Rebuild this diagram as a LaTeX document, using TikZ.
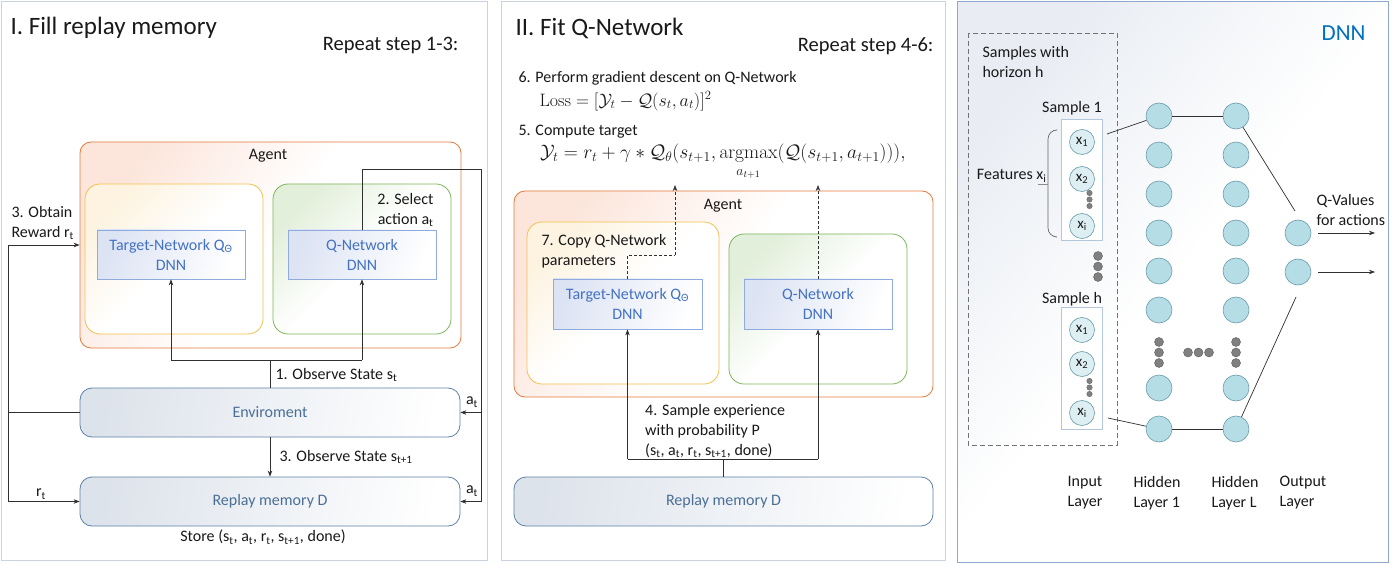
\RequirePackage{fix-cm}
\documentclass[tikz,border=0pt]{standalone}
\usepackage{amsmath}
\usepackage[no-math]{fontspec}
\setmainfont{Carlito}
\usetikzlibrary{arrows.meta,calc}
\definecolor{panelb}{HTML}{CBD3E0}
\definecolor{rpanelb}{HTML}{8EA7CE}
\definecolor{rpanelf}{HTML}{E9EDF3}
\definecolor{agentb}{HTML}{E57A3C}
\definecolor{agentf}{HTML}{FCE6DC}
\definecolor{yelb}{HTML}{F2C14E}
\definecolor{yelf}{HTML}{FDF3E0}
\definecolor{greb}{HTML}{7FB55A}
\definecolor{gref}{HTML}{E2EFDA}
\definecolor{innb}{HTML}{8FAADC}
\definecolor{innf}{HTML}{DCE3F3}
\definecolor{innt}{HTML}{4472C4}
\definecolor{envb}{HTML}{5E81A8}
\definecolor{envf}{HTML}{DDE3EB}
\definecolor{envt}{HTML}{4A6F96}
\definecolor{neuf}{HTML}{B5DDE6}
\definecolor{neub}{HTML}{6A9BAA}
\definecolor{inf}{HTML}{DDEFF3}
\definecolor{dotc}{HTML}{808080}
\definecolor{dnnt}{HTML}{0070C0}
\definecolor{sboxb}{HTML}{B4C6DC}
\definecolor{linec}{HTML}{303030}
\begin{document}
\begin{tikzpicture}[x=1pt,y=-1pt,
  font=\fontsize{16}{20}\selectfont,
  every node/.style={text=black!90},
  conn/.style={draw=linec, line width=0.7pt},
  arr/.style={conn, -{Stealth[length=6pt,width=4.5pt]}},
  dconn/.style={conn, dashed, dash pattern=on 3pt off 2pt},
  agentbox/.style={draw=agentb, line width=0.8pt, rounded corners=11pt, top color=agentf, bottom color=white, middle color=white, shading angle=55},
  yelbox/.style={draw=yelb, line width=0.8pt, rounded corners=15pt, top color=yelf, bottom color=white, middle color=white, shading angle=45},
  grebox/.style={draw=greb, line width=0.8pt, rounded corners=15pt, top color=gref, bottom color=white, middle color=white, shading angle=45},
  innbox/.style={draw=innb, line width=0.8pt, left color=innf, right color=white, shading angle=70, text=innt, align=center, inner sep=0pt},
  envbox/.style={draw=envb, line width=0.8pt, rounded corners=12pt, left color=envf, right color=white, shading angle=80, text=envt, inner sep=0pt},
  neuron/.style={circle, draw=neub, line width=0.6pt, fill=neuf, minimum size=26pt, inner sep=0pt},
  inneuron/.style={circle, draw=neub, line width=0.6pt, fill=inf, minimum size=25pt, inner sep=0pt, font=\fontsize{15}{15}\selectfont},
  bigdot/.style={circle, draw=dotc!70!black, line width=0.4pt, fill=dotc, minimum size=9pt, inner sep=0pt},
  smalldot/.style={circle, draw=dotc!70!black, line width=0.3pt, fill=dotc, minimum size=5.5pt, inner sep=0pt},
  sbox/.style={draw=sboxb, line width=0.7pt, fill=white, inner sep=0pt},
  title/.style={anchor=west, font=\fontsize{25}{30}\selectfont},
  rep/.style={anchor=east, font=\fontsize{20.5}{24}\selectfont}
]
\useasboundingbox (0,0) rectangle (1390,564);
% ---------- panels ----------
\draw[draw=panelb, line width=1pt, fill=white] (1,2) rectangle (487,560);
\draw[draw=panelb, line width=1pt, fill=white] (501,2) rectangle (945,560);
\path[draw=rpanelb, line width=1pt, top color=rpanelf, bottom color=white, middle color=white, shading angle=50] (957,2) rectangle (1388,562);

% ================= LEFT PANEL =================
\node[title] (tL) at (7,28) {I. Fill replay memory};
\node[rep] (rL) at (462,46) {Repeat step 1-3:};

\node[agentbox, minimum width=381pt, minimum height=206pt] (agentL) at (270.5,245) {};
\node (agentLl) at (268,156) {Agent};
\node[yelbox, minimum width=178pt, minimum height=150pt] (yelL) at (174,259) {};
\node[grebox, minimum width=178pt, minimum height=150pt] (greL) at (362,259) {};
\node[innbox, minimum width=148pt, minimum height=49pt] (targetL) at (171,254.5) {Target-Network Q\textsubscript{Θ}\\DNN};
\node[innbox, minimum width=148pt, minimum height=49pt] (qnetL) at (362,254.5) {Q-Network\\DNN};
\node[envbox, minimum width=380pt, minimum height=49pt] (envL) at (270,412.5) {Enviroment};
\node[envbox, minimum width=380pt, minimum height=49pt] (replayL) at (270,501.5) {Replay memory D};

% select action loop
\coordinate (selTop) at (362,169);
\coordinate (selRight) at (481,169);
\coordinate (atEnv) at (481,412.5);
\coordinate (atRep) at (481,501.5);
\draw[conn] (qnetL.north) -- (selTop) -- (selRight) -- (atRep);
\draw[arr] (atRep) -- (replayL.east);
\draw[arr] (atEnv) -- (envL.east);
\node[anchor=east, align=right] (selLbl) at (437,210) {2. Select\\action a\textsubscript{t}};
\node (atLbl1) at (472,402) {a\textsubscript{t}};
\node (atLbl2) at (472,491) {a\textsubscript{t}};

% observe state
\coordinate (obsJ) at (270,360);
\coordinate (obsL) at (171,360);
\coordinate (obsR) at (362,360);
\draw[conn] (envL.north) -- (obsJ);
\draw[conn] (obsL) -- (obsR);
\draw[arr] (obsL) -- (targetL.south);
\draw[arr] (obsR) -- (qnetL.south);
\node[anchor=west] (obsLbl) at (272,375) {1. Observe State s\textsubscript{t}};

% reward
\coordinate (rwM) at (8,412.5);
\coordinate (rwT) at (8,245);
\coordinate (rwB) at (8,501.5);
\draw[conn] (envL.west) -- (rwM);
\draw[arr] (rwM) -- (rwT) -- (agentL.west);
\draw[arr] (rwM) -- (rwB) -- (replayL.west);
\node[anchor=west, align=left] (rwLbl) at (8,223) {3. Obtain\\Reward r\textsubscript{t}};
\node (rtLbl) at (41,494) {r\textsubscript{t}};

% env -> replay
\draw[arr] (envL.south) -- (replayL.north);
\node[anchor=west] (obs2Lbl) at (276,457) {3. Observe State s\textsubscript{t+1}};
\node (storeLbl) at (263,537) {Store (s\textsubscript{t}, a\textsubscript{t}, r\textsubscript{t}, s\textsubscript{t+1}, done)};

% ================= MIDDLE PANEL =================
\node[title] (tM) at (512,28) {II. Fit Q-Network};
\node[rep] (rM) at (937,46) {Repeat step 4-6:};
\node[anchor=west] (s6) at (515,78) {6. Perform gradient descent on Q-Network};
\node[anchor=west, font=\fontsize{18}{21}\selectfont] (loss) at (536,101) {$\mathrm{Loss} = [\mathcal{Y}_t - \mathcal{Q}(s_t,a_t)]^2$};
\node[anchor=west] (s5) at (515,132) {5. Compute target};
\node[anchor=north west, font=\fontsize{19.5}{22}\selectfont, inner sep=0pt] (target) at (540,144) {$\displaystyle \mathcal{Y}_t = r_t + \gamma * \mathcal{Q}_\theta(s_{t+1}, \operatorname*{argmax}_{a_{t+1}}(\mathcal{Q}(s_{t+1},a_{t+1}))),$};

\node[agentbox, minimum width=419pt, minimum height=206pt] (agentM) at (723.5,294) {};
\node (agentMl) at (723,206) {Agent};
\node[yelbox, minimum width=192pt, minimum height=162pt] (yelM) at (623,303) {};
\node[grebox, minimum width=178pt, minimum height=150pt] (greM) at (818,309) {};
\node[innbox, minimum width=149pt, minimum height=50pt] (targetM) at (627.5,304) {Target-Network Q\textsubscript{Θ}\\DNN};
\node[innbox, minimum width=148pt, minimum height=50pt] (qnetM) at (818,304) {Q-Network\\DNN};
\node[anchor=west, align=left] (cpLbl) at (538,251) {7. Copy Q-Network\\parameters};
\node[envbox, minimum width=419pt, minimum height=49pt] (replayM) at (723.5,501.5) {Replay memory D};

% copy / target dashed
\coordinate (cpA) at (627.5,255);
\coordinate (cpB) at (675,255);
\coordinate (cpT) at (675,185);
\draw[dconn] (targetM.north) -- (cpA) -- (cpB);
\draw[dconn, -{Stealth[length=6pt,width=4.5pt]}] (cpB) -- (cpT);
\draw[dconn, -{Stealth[length=6pt,width=4.5pt]}] (qnetM.north) -- (qnetM.north |- cpT);

% sampling
\coordinate (smpJ) at (723.5,459);
\draw[conn] (targetM.south |- smpJ) -- (qnetM.south |- smpJ);
\draw[arr] (targetM.south |- smpJ) -- (targetM.south);
\draw[arr] (qnetM.south |- smpJ) -- (qnetM.south);
\draw[conn] (replayM.north) -- (smpJ);
\node[anchor=west, align=left, inner sep=1pt] (smpLbl) at (644,431) {4. Sample experience\\with probability P\\(s\textsubscript{t}, a\textsubscript{t}, r\textsubscript{t}, s\textsubscript{t+1}, done)};

% ================= RIGHT PANEL =================
\node[anchor=east, text=dnnt, font=\fontsize{23}{26}\selectfont] (dnnLbl) at (1369,33) {DNN};
\draw[draw=black!55, line width=0.9pt, dash pattern=on 5pt off 3pt] (968,33) rectangle (1117,445);
\node[anchor=west, align=left] (horLbl) at (979,62) {Samples with\\horizon h};

% sample 1
\node (s1Lbl) at (1072,108) {Sample 1};
\node[sbox, minimum width=41pt, minimum height=121pt] (s1box) at (1081.5,179.5) {};
\node[inneuron] (s1x1) at (1082,142) {x\textsubscript{1}};
\node[inneuron] (s1x2) at (1082,179) {x\textsubscript{2}};
\node[smalldot] (s1d1) at (1089.5,193) {};
\node[smalldot] (s1d2) at (1089.5,199.5) {};
\node[smalldot] (s1d3) at (1089.5,206) {};
\node[inneuron] (s1xi) at (1082,226) {x\textsubscript{i}};
\draw[draw=black!60, line width=0.7pt, rounded corners=9pt] (1056,130) -- (1048,130) -- (1048,237) -- (1056,237);
\draw[draw=black!45, line width=0.7pt] (1038,184) -- (1048,184);
\node[anchor=east] (featLbl) at (1050,176) {Features x\textsubscript{i}};

% between samples
\node[bigdot] (bd1) at (1098,256) {};
\node[bigdot] (bd2) at (1098,266.5) {};
\node[bigdot] (bd3) at (1098,277) {};

% sample h
\node (shLbl) at (1072,299) {Sample h};
\node[sbox, minimum width=41pt, minimum height=122pt] (shbox) at (1081.5,368) {};
\node[inneuron] (shx1) at (1082,330) {x\textsubscript{1}};
\node[inneuron] (shx2) at (1082,364) {x\textsubscript{2}};
\node[smalldot] (shd1) at (1089.5,381) {};
\node[smalldot] (shd2) at (1089.5,387.5) {};
\node[smalldot] (shd3) at (1089.5,394) {};
\node[inneuron] (shxi) at (1082,413) {x\textsubscript{i}};

% hidden layers
\foreach \n/\yy in {a/116,b/155,c/194,d/233,e/271,f/310,g/388,h/429}{
  \node[neuron] (h1\n) at (1159,\yy) {};
  \node[neuron] (hL\n) at (1236,\yy) {};
}
\foreach \k/\yy in {1/342,2/352.5,3/363}{
  \node[bigdot] (h1dot\k) at (1159,\yy) {};
  \node[bigdot] (hLdot\k) at (1236,\yy) {};
}
\foreach \k/\xx in {1/1188,2/1198.5,3/1209}{
  \node[bigdot] (hdot\k) at (\xx,352.5) {};
}
% output layer
\node[neuron] (o1) at (1298,233) {};
\node[neuron] (o2) at (1298,272) {};

% connections
\coordinate (s1link) at (1107,134);
\coordinate (shlink) at (1108,418);
\coordinate (oTop) at (1295,211);
\coordinate (oBot) at (1296,297);
\draw[conn] (s1link) -- (h1a);
\draw[conn] (h1a) -- (hLa);
\draw[conn] (hLa) -- (oTop);
\draw[conn] (shlink) -- (h1h);
\draw[conn] (h1h) -- (hLh);
\draw[conn] (hLh) -- (oBot);
\coordinate (q1s) at (1318,233);
\coordinate (q1e) at (1375,233);
\coordinate (q2s) at (1318,272);
\coordinate (q2e) at (1375,272);
\draw[arr] (q1s) -- (q1e);
\draw[arr] (q2s) -- (q2e);
\node[anchor=west, align=left] (qvLbl) at (1313,210) {Q-Values\\for actions};

% layer labels
\node[align=left] (lIn) at (1085,493) {Input\\Layer};
\node[align=left] (lH1) at (1157,493) {Hidden\\Layer 1};
\node[align=left] (lHL) at (1235,493) {Hidden\\Layer L};
\node[align=left] (lOut) at (1303,493) {Output\\Layer};
\end{tikzpicture}
\end{document}
